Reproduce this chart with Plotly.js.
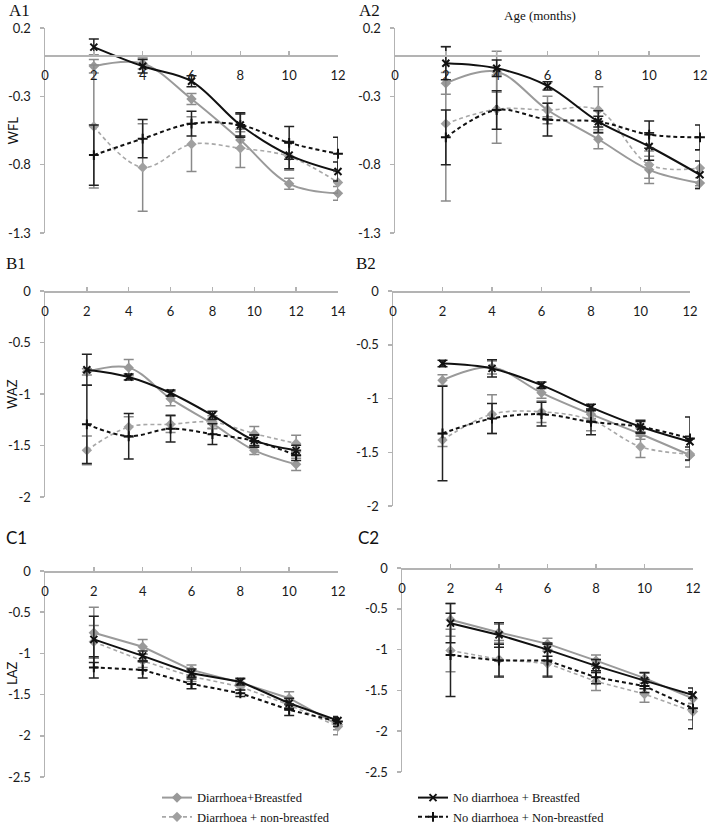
<!DOCTYPE html>
<html>
<head>
<meta charset="utf-8">
<script src="https://cdn.plot.ly/plotly-3.0.1.min.js"></script>
<style>html,body{margin:0;padding:0;background:#fff;}#chart{width:709px;height:827px;}</style>
</head>
<body>
<div id="chart"></div>
<script>
// ---------- DATA ----------
const months = [2, 4, 6, 8, 10, 12];
const seriesNames = ["Diarrhoea+Breastfed", "Diarrhoea + non-breastfed", "No diarrhoea + Breastfed", "No diarrhoea + Non-breastfed"];
const panelLabels = ["A1", "A2", "B1", "B2", "C1", "C2"];
const yTitles = ["WFL", "WAZ", "LAZ"];
const topTitle = "Age (months)";

// A1 (WFL)
const a1_dBF  = [-0.08, -0.06, -0.32, -0.62, -0.94, -1.01];
const a1_dBF_err  = [0.05, 0.04, 0.04, 0.06, 0.04, 0.05];
const a1_dNBF = [-0.52, -0.82, -0.65, -0.68, -0.74, -0.93];
const a1_dNBF_err = [0.45, 0.32, 0.20, 0.14, 0.10, 0.08];
const a1_nBF  = [0.06, -0.08, -0.19, -0.51, -0.73, -0.85];
const a1_nBF_err  = [0.06, 0.05, 0.04, 0.09, 0.10, 0.07];
const a1_nNBF = [-0.73, -0.61, -0.50, -0.51, -0.64, -0.72];
const a1_nNBF_err = [0.22, 0.14, 0.09, 0.08, 0.12, 0.12];

// A2 (WFL)
const a2_dBF  = [-0.205, -0.12, -0.40, -0.614, -0.838, -0.935];
const a2_dBF_err  = [0.08, 0.15, 0.05, 0.07, 0.10, 0.04];
const a2_dNBF = [-0.50, -0.394, -0.40, -0.40, -0.80, -0.825];
const a2_dNBF_err = [0.565, 0.25, 0.10, 0.17, 0.10, 0.13];
const a2_nBF  = [-0.058, -0.095, -0.224, -0.485, -0.667, -0.874];
const a2_nBF_err  = [0.12, 0.06, 0.03, 0.04, 0.10, 0.10];
const a2_nNBF = [-0.60, -0.40, -0.47, -0.485, -0.58, -0.60];
const a2_nNBF_err = [0.20, 0.14, 0.12, 0.08, 0.10, 0.09];

// B1 (WAZ)
const b1_dBF  = [-0.786, -0.744, -1.045, -1.288, -1.547, -1.683];
const b1_dBF_err  = [0.03, 0.08, 0.07, 0.05, 0.04, 0.06];
const b1_dNBF = [-1.547, -1.32, -1.294, -1.272, -1.385, -1.48];
const b1_dNBF_err = [0.14, 0.10, 0.08, 0.06, 0.07, 0.08];
const b1_nBF  = [-0.764, -0.835, -0.99, -1.207, -1.45, -1.547];
const b1_nBF_err  = [0.15, 0.03, 0.03, 0.04, 0.05, 0.05];
const b1_nNBF = [-1.294, -1.41, -1.337, -1.39, -1.456, -1.595];
const b1_nNBF_err = [0.38, 0.22, 0.13, 0.10, 0.06, 0.05];

// B2 (WAZ)
const b2_dBF  = [-0.83, -0.712, -0.947, -1.146, -1.33, -1.527];
const b2_dBF_err  = [0.05, 0.06, 0.05, 0.04, 0.05, 0.05];
const b2_dNBF = [-1.387, -1.146, -1.124, -1.20, -1.449, -1.517];
const b2_dNBF_err = [0.06, 0.18, 0.10, 0.10, 0.10, 0.12];
const b2_nBF  = [-0.675, -0.72, -0.876, -1.083, -1.263, -1.402];
const b2_nBF_err  = [0.03, 0.08, 0.03, 0.03, 0.06, 0.05];
const b2_nNBF = [-1.325, -1.186, -1.146, -1.217, -1.263, -1.372];
const b2_nNBF_err = [0.44, 0.14, 0.11, 0.12, 0.05, 0.20];

// C1 (LAZ)
const c1_dBF  = [-0.75, -0.92, -1.20, -1.355, -1.544, -1.867];
const c1_dBF_err  = [0.31, 0.09, 0.06, 0.04, 0.08, 0.06];
const c1_dNBF = [-0.86, -1.09, -1.28, -1.403, -1.625, -1.887];
const c1_dNBF_err = [0.20, 0.08, 0.06, 0.04, 0.06, 0.10];
const c1_nBF  = [-0.83, -1.03, -1.24, -1.343, -1.605, -1.815];
const c1_nBF_err  = [0.28, 0.06, 0.05, 0.04, 0.06, 0.04];
const c1_nNBF = [-1.17, -1.20, -1.37, -1.484, -1.685, -1.827];
const c1_nNBF_err = [0.13, 0.10, 0.06, 0.04, 0.07, 0.06];

// C2 (LAZ)
const c2_dBF  = [-0.635, -0.79, -0.93, -1.135, -1.35, -1.60];
const c2_dBF_err  = [0.20, 0.10, 0.07, 0.07, 0.06, 0.06];
const c2_dNBF = [-1.01, -1.12, -1.17, -1.39, -1.545, -1.76];
const c2_dNBF_err = [0.26, 0.20, 0.15, 0.11, 0.10, 0.10];
const c2_nBF  = [-0.676, -0.82, -1.00, -1.20, -1.38, -1.557];
const c2_nBF_err  = [0.24, 0.15, 0.08, 0.08, 0.10, 0.04];
const c2_nNBF = [-1.066, -1.135, -1.135, -1.34, -1.447, -1.72];
const c2_nNBF_err = [0.51, 0.20, 0.20, 0.08, 0.08, 0.25];

// tick labels
const xTicks12 = [0, 2, 4, 6, 8, 10, 12];
const xTicks14 = [0, 2, 4, 6, 8, 10, 12, 14];
const yTicksA = [0.2, -0.3, -0.8, -1.3];
const yTicksAText = ["0.2", "-0.3", "-0.8", "-1.3"];
const yTicksB = [0, -0.5, -1, -1.5, -2];
const yTicksBText = ["0", "-0.5", "-1", "-1.5", "-2"];
const yTicksC = [0, -0.5, -1, -1.5, -2, -2.5];
const yTicksCText = ["0", "-0.5", "-1", "-1.5", "-2", "-2.5"];

// ---------- LAYOUT / STYLE ----------
const W = 709, H = 827;
const fx = p => p / W;
const fy = p => 1 - p / H;

const panelData = [
  [[a1_dBF, a1_dBF_err], [a1_dNBF, a1_dNBF_err], [a1_nBF, a1_nBF_err], [a1_nNBF, a1_nNBF_err]],
  [[a2_dBF, a2_dBF_err], [a2_dNBF, a2_dNBF_err], [a2_nBF, a2_nBF_err], [a2_nNBF, a2_nNBF_err]],
  [[b1_dBF, b1_dBF_err], [b1_dNBF, b1_dNBF_err], [b1_nBF, b1_nBF_err], [b1_nNBF, b1_nNBF_err]],
  [[b2_dBF, b2_dBF_err], [b2_dNBF, b2_dNBF_err], [b2_nBF, b2_nBF_err], [b2_nNBF, b2_nNBF_err]],
  [[c1_dBF, c1_dBF_err], [c1_dNBF, c1_dNBF_err], [c1_nBF, c1_nBF_err], [c1_nNBF, c1_nNBF_err]],
  [[c2_dBF, c2_dBF_err], [c2_dNBF, c2_dNBF_err], [c2_nBF, c2_nBF_err], [c2_nNBF, c2_nNBF_err]]
];

const serifF = "Liberation Serif, DejaVu Serif, serif";
const sansF = "Lato, Open Sans, sans-serif";
const geom = [
  {x: [45, 338], y: [28, 233], xr: [0, 12], yr: [-1.3, 0.2], xt: xTicks12, yt: yTicksA, ytt: yTicksAText, lab: [7, 10], labFont: serifF},
  {x: [395, 700], y: [28, 233], xr: [0, 12], yr: [-1.3, 0.2], xt: xTicks12, yt: yTicksA, ytt: yTicksAText, lab: [357, 10], labFont: serifF},
  {x: [45, 338], y: [291, 497], xr: [0, 14], yr: [-2, 0], xt: xTicks14, yt: yTicksB, ytt: yTicksBText, lab: [4, 263], labFont: serifF},
  {x: [393, 690], y: [291, 506], xr: [0, 12], yr: [-2, 0], xt: xTicks12, yt: yTicksB, ytt: yTicksBText, lab: [354, 263], labFont: serifF},
  {x: [45, 338], y: [571, 777], xr: [0, 12], yr: [-2.5, 0], xt: xTicks12, yt: yTicksC, ytt: yTicksCText, lab: [4, 537], labFont: sansF},
  {x: [402, 693], y: [568, 772], xr: [0, 12], yr: [-2.5, 0], xt: xTicks12, yt: yTicksC, ytt: yTicksCText, lab: [356, 537], labFont: sansF}
];

const styles = [
  {color: "#9a9a9a", dash: "solid", width: 2, sym: "diamond", msize: 8, mcol: "#999999", ecol: "#8a8a8a", legend: "legend"},
  {color: "#a8a8a8", dash: "4px,3px", width: 1.6, sym: "diamond", msize: 8, mcol: "#a0a0a0", ecol: "#8a8a8a", legend: "legend"},
  {color: "#111111", dash: "solid", width: 2, sym: "x-thin", msize: 7, mcol: "#111111", ecol: "#222222", legend: "legend2"},
  {color: "#111111", dash: "4px,3px", width: 2, sym: "cross-thin", msize: 7, mcol: "#111111", ecol: "#222222", legend: "legend2"}
];

const tickFont = {family: sansF, size: 13, color: "#1a1a1a"};
const axisCol = "#b3b3b3";

const traces = [];
const layout = {
  width: W, height: H,
  margin: {l: 0, r: 0, t: 0, b: 0, autoexpand: false},
  paper_bgcolor: "#fff", plot_bgcolor: "rgba(0,0,0,0)",
  showlegend: true,
  legend: {x: fx(157), y: -0.006, xanchor: "left", yanchor: "bottom", bgcolor: "rgba(0,0,0,0)",
           font: {family: serifF, size: 12.5, color: "#111"}, tracegroupgap: 0, itemwidth: 30},
  legend2: {x: fx(413), y: -0.006, xanchor: "left", yanchor: "bottom", bgcolor: "rgba(0,0,0,0)",
           font: {family: serifF, size: 12.5, color: "#111"}, tracegroupgap: 0, itemwidth: 30},
  annotations: [],
  shapes: []
};

geom.forEach((g, i) => {
  const n = i + 1;
  const xa = "xaxis" + (n === 1 ? "" : n);
  const ya = "yaxis" + (n === 1 ? "" : n);
  const xid = "x" + (n === 1 ? "" : n);
  const yid = "y" + (n === 1 ? "" : n);
  const zeroPx = g.y[0] + (g.yr[1] - 0) / (g.yr[1] - g.yr[0]) * (g.y[1] - g.y[0]);
  layout[xa] = {
    domain: [fx(g.x[0]), fx(g.x[1])], range: g.xr, anchor: "free", position: fy(zeroPx),
    side: "bottom", showline: true, linecolor: axisCol, linewidth: 1.5,
    showgrid: false, zeroline: false, tickvals: g.xt, ticktext: g.xt.map(String),
    ticks: "inside", ticklen: 4, tickcolor: axisCol, tickwidth: 1.5,
    tickfont: tickFont, ticklabelstandoff: 8, fixedrange: true
  };
  layout[ya] = {
    domain: [fy(g.y[1]), fy(g.y[0])], range: g.yr, anchor: xid,
    showline: true, linecolor: axisCol, linewidth: 1.5, showgrid: false, zeroline: false,
    tickvals: g.yt, ticktext: g.ytt, ticks: "outside", ticklen: 4, tickcolor: axisCol, tickwidth: 1.5,
    tickfont: tickFont, ticklabelstandoff: 6, fixedrange: true
  };
  panelData[i].forEach((s, k) => {
    const st = styles[k];
    traces.push({
      type: "scatter", mode: "lines+markers", x: months, y: s[0],
      xaxis: xid, yaxis: yid, name: seriesNames[k], legend: st.legend,
      showlegend: i === 0, cliponaxis: false,
      line: {color: st.color, dash: st.dash, width: st.width, shape: i >= 4 ? "linear" : "spline", smoothing: 1},
      marker: {symbol: st.sym, size: st.msize, color: st.mcol, line: {color: st.mcol, width: st.sym.indexOf("thin") >= 0 ? 2 : 0}},
      error_y: {type: "data", array: s[1], visible: true, color: st.ecol, thickness: 1.5, width: 5}
    });
  });
  layout.annotations.push({
    text: panelLabels[i], xref: "paper", yref: "paper", x: fx(g.lab[0]), y: fy(g.lab[1]),
    xanchor: "left", yanchor: "middle", showarrow: false,
    font: {family: g.labFont, size: 17, color: "#111"}
  });
  if (i % 2 === 0) {
    layout.annotations.push({
      text: yTitles[i / 2], xref: "paper", yref: "paper", x: fx(12), y: fy((g.y[0] + g.y[1]) / 2),
      xanchor: "center", yanchor: "middle", showarrow: false, textangle: -90,
      font: {family: sansF, size: 13, color: "#111"}
    });
  }
});

layout.annotations.push({
  text: topTitle, xref: "paper", yref: "paper", x: fx(540), y: fy(15),
  xanchor: "center", yanchor: "middle", showarrow: false,
  font: {family: serifF, size: 13, color: "#111"}
});

Plotly.newPlot("chart", traces, layout, {displayModeBar: false, staticPlot: true});
</script>
</body>
</html>
